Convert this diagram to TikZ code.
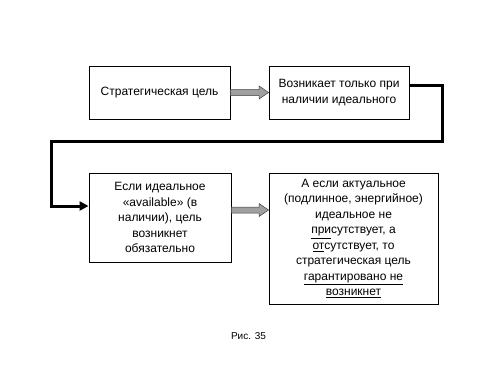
\documentclass[tikz,border=0pt]{standalone}
\usepackage{fontspec}
\setmainfont{Liberation Sans}
\usetikzlibrary{calc,arrows.meta,shadows}
\begin{document}
\begin{tikzpicture}[x=1pt,y=-1pt,
  box/.style={draw=black, line width=0.9pt, fill=white, align=center, inner sep=2pt,
    font=\fontsize{12}{15.5}\selectfont,
    drop shadow={shadow xshift=1pt, shadow yshift=-1pt, fill=gray!70, opacity=1}},
  blockarrow/.style={draw=black!75, fill=gray!75, line width=0.5pt, to path={
    let \p1=(\tikztostart), \p2=(\tikztotarget) in
    (\x1,\y1+3pt) -- (\x2-9.5pt,\y1+3pt) -- (\x2-9.5pt,\y1+6.5pt) -- (\x2,\y1)
    -- (\x2-9.5pt,\y1-6.5pt) -- (\x2-9.5pt,\y1-3pt) -- (\x1,\y1-3pt) -- cycle}},
  thickline/.style={line width=3pt, line join=miter, -{Triangle[length=9pt,width=9pt]}}
]
\useasboundingbox (0,0) rectangle (500,375);
\fill[white] (0,0) rectangle (500,375);

\node[box, minimum width=141pt, minimum height=53pt] (b1) at (159.5,92.5) {Стратегическая цель};
\node[box, minimum width=140pt, minimum height=53pt] (b2) at (339,92.5) {Возникает только при\\наличии идеального};
\node[box, minimum width=142pt, minimum height=89pt] (b3) at (160,217.5)
  {Если идеальное\\«available» (в\\наличии), цель\\возникнет\\обязательно};
\node[box, minimum width=169pt, minimum height=131pt] (b4) at (353.5,238.5)
  {А если актуальное\\(подлинное, энергийное)\\идеальное не\\\underline{при}сутствует, а\\\underline{от}сутствует, то\\стратегическая цель\\\underline{гарантировано не}\\\underline{возникнет}};

\coordinate (a2) at (0,210);
\path[blockarrow] (b1.east) to (b2.west);
\path[blockarrow] (b3.east |- a2) to (b4.west |- a2);

\coordinate (c1) at (442,85);
\coordinate (c2) at (442,141);
\coordinate (c3) at (51,141);
\coordinate (c4) at (51,206);
\draw[thickline] (b2.east |- c1) -- (c1) -- (c2) -- (c3) -- (c4) -- (b3.west |- c4);

\node[font=\fontsize{10}{12}\selectfont] (cap) at (248.5,336) {Рис. 35};
\end{tikzpicture}
\end{document}
